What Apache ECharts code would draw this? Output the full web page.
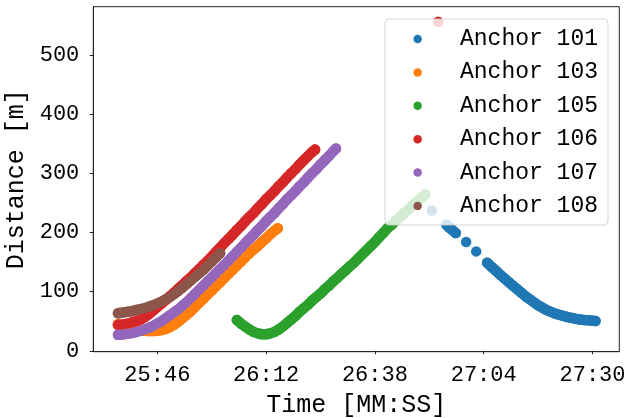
<!DOCTYPE html>
<html>
<head>
<meta charset="utf-8">
<script src="https://cdn.jsdelivr.net/npm/echarts@6/dist/echarts.min.js"></script>
<style>html,body{margin:0;padding:0;background:#fff;}#c{width:628px;height:418px;}</style>
</head>
<body>
<div id="c"></div>
<script>
const seriesNames = ['Anchor 101', 'Anchor 103', 'Anchor 105', 'Anchor 106', 'Anchor 107', 'Anchor 108'];
const xTicks = [1546, 1572, 1598, 1624, 1650];
const yTicks = [0, 100, 200, 300, 400, 500];

// '-' marks a gap between recorded runs of samples
const anchor101 = [
  [1611.6,237], '-',
  [1615.1,213],[1615.8,208],[1616.5,204],[1617.3,199], '-',
  [1619.8,184], '-',
  [1622.2,168], '-',
  [1624.8,149],[1625.4,145],[1626,141],[1627,135],[1628,128],[1629,122],[1630,116],[1631,110],
  [1632,104],[1633,98],[1634,92],[1635,87],[1636,82],[1637,77],[1638,73],[1639,69],[1640,66],
  [1641,63],[1642,61],[1643,59],[1644,57],[1645,55.5],[1646,54],[1647,53],[1648,52],[1649,51.5],
  [1650,51],[1650.7,50.5]
];
const anchor103 = [
  [1536.6,45],[1537,44],[1538,42],[1539,40],[1540,38],[1541,36],[1542,35],[1543,34],[1544,33.5],
  [1545,33.5],[1546,34],[1547,35],[1548,37],[1549,40],[1550,44],[1551,49],[1552,55],[1553,61],
  [1554,67],[1555,74],[1556,81],[1557,88],[1558,95],[1559,102],[1560,109],[1561,116],[1562,123],
  [1563,130],[1564,137],[1565,144],[1566,151],[1567,158],[1568,165],[1569,171],[1570,177],
  [1571,184],[1572,190],[1573,197],[1574,203],[1574.8,207]
];
const anchor105 = [
  [1565,52],[1566,46],[1567,41],[1568,36],[1569,32],[1570,29.5],[1571,28],[1572,28],[1573,29.5],
  [1574,32],[1575,36],[1576,41],[1577,47],[1578,53],[1579,59],[1580,66],[1581,72],[1582,78],
  [1583,85],[1584,91],[1585,97],[1586,104],[1587,110],[1588,117],[1589,123],[1590,130],[1591,136],
  [1592,143],[1593,149],[1594,156],[1595,163],[1596,170],[1597,177],[1598,184],[1599,192],
  [1600,199],[1601,207],[1602,213],[1603,220],[1604,226],[1605,233],[1606,239],[1607,246],
  [1608,252],[1609,258],[1610,264]
];
const anchor106 = [
  [1536.6,44],[1537,44],[1538,45],[1539,46],[1540,48],[1541,50],[1542,53],[1543,57],[1544,62],
  [1545,68],[1546,74],[1547,80],[1548,86],[1549,92],[1550,98],[1551,105],[1552,111],[1553,118],
  [1554,124],[1555,131],[1556,138],[1557,145],[1558,152],[1559,159],[1560,167],[1561,174],
  [1562,182],[1563,189],[1564,196],[1565,204],[1566,211],[1567,219],[1568,226],[1569,233],
  [1570,241],[1571,248],[1572,256],[1573,263],[1574,270],[1575,278],[1576,285],[1577,293],
  [1578,300],[1579,307],[1580,315],[1581,322],[1582,329],[1583,336],[1583.7,340], '-',
  [1613.1,556]
];
const anchor107 = [
  [1536.6,27],[1537,27],[1538,28],[1539,29],[1540,30],[1541,32],[1542,34],[1543,36],[1544,39],
  [1545,42],[1546,46],[1547,50],[1548,55],[1549,60],[1550,65],[1551,70],[1552,76],[1553,82],
  [1554,89],[1555,96],[1556,103],[1557,110],[1558,117],[1559,124],[1560,131],[1561,138],
  [1562,145],[1563,152],[1564,159.5],[1565,167],[1566,174],[1567,182],[1568,189],[1569,196],
  [1570,204],[1571,211],[1572,219],[1573,226],[1574,233],[1575,241],[1576,248],[1577,256],
  [1578,263],[1579,270],[1580,278],[1581,285],[1582,293],[1583,300],[1584,307],[1585,315],
  [1586,322],[1587,329],[1588,337],[1588.7,342]
];
const anchor108 = [
  [1536.6,63.5],[1537,64],[1538,65],[1539,66],[1540,67],[1541,69],[1542,70.5],[1543,72],
  [1544,74.5],[1545,77],[1546,80],[1547,83],[1548,87],[1549,91],[1550,96],[1551,101],[1552,107],
  [1553,113],[1554,119],[1555,125],[1556,131],[1557,137],[1558,144],[1559,151],[1560,158],[1561,165]
];

const colors = ['#1f77b4', '#ff7f0e', '#2ca02c', '#d62728', '#9467bd', '#8c564b'];
const allData = [anchor101, anchor103, anchor105, anchor106, anchor107, anchor108];

const FONT = 'Liberation Mono';
const MARK = 10.5;
function mmss(v) {
  const m = Math.floor(v / 60), s = Math.round(v - m * 60);
  return m + ':' + (s < 10 ? '0' : '') + s;
}

const chart = echarts.init(document.getElementById('c'), null, {renderer: 'canvas'});
chart.setOption({
  animation: false,
  backgroundColor: '#ffffff',
  color: colors,
  grid: {left: 93.3, right: 8.7, top: 6.7, bottom: 66.3, containLabel: false, outerBoundsMode: 'none',
         show: true, borderColor: '#222', borderWidth: 1, backgroundColor: 'transparent'},
  legend: {
    orient: 'vertical',
    left: 385, top: 19,
    padding: [8.5, 10, 7.5, 28.4],
    itemWidth: 74.7, itemHeight: 8.5, itemGap: 10.4,
    icon: 'circle',
    backgroundColor: 'rgba(255,255,255,0.8)',
    borderColor: 'rgba(204,204,204,0.8)', borderWidth: 1, borderRadius: 4,
    textStyle: {fontFamily: FONT, fontSize: 23, color: '#000', lineHeight: 23},
    data: seriesNames
  },
  xAxis: {
    type: 'value', min: 1530.7, max: 1656.4,
    name: 'Time [MM:SS]', nameLocation: 'middle', nameGap: 41,
    nameTextStyle: {fontFamily: FONT, fontSize: 25, color: '#000'},
    axisLine: {show: true, lineStyle: {color: '#222', width: 1}},
    axisTick: {show: true, length: 3.5, lineStyle: {color: '#222'}, customValues: xTicks},
    axisLabel: {fontFamily: FONT, fontSize: 22, color: '#000', margin: 12.5, customValues: xTicks, formatter: mmss},
    splitLine: {show: false}
  },
  yAxis: {
    type: 'value', min: -1.5, max: 581.5,
    name: 'Distance [m]', nameLocation: 'middle', nameGap: 52, nameRotate: 90,
    nameTextStyle: {fontFamily: FONT, fontSize: 25, color: '#000'},
    axisLine: {show: true, lineStyle: {color: '#222', width: 1}},
    axisTick: {show: true, length: 3.5, lineStyle: {color: '#222'}, customValues: yTicks},
    axisLabel: {fontFamily: FONT, fontSize: 22, color: '#000', margin: 14, customValues: yTicks},
    splitLine: {show: false}
  },
  series: seriesNames.map((n, i) => ({
    name: n, type: 'line', data: allData[i], connectNulls: false,
    symbol: 'circle', symbolSize: MARK, showSymbol: true, showAllSymbol: true,
    lineStyle: {color: colors[i], width: MARK, cap: 'round', join: 'round'},
    itemStyle: {color: colors[i], borderWidth: 0, opacity: 1},
    emphasis: {disabled: true}, z: 2
  }))
});
</script>
</body>
</html>
